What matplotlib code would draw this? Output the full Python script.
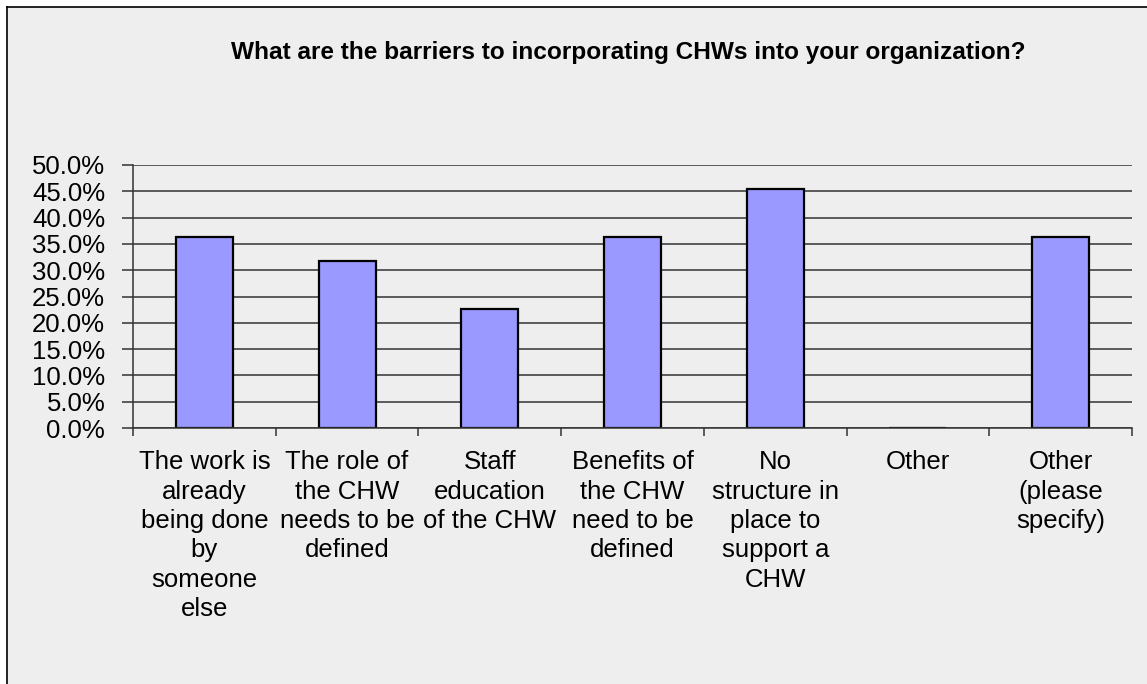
import matplotlib.pyplot as plt
from matplotlib.patches import Rectangle
from matplotlib.ticker import FuncFormatter, MultipleLocator

plt.rcParams['font.family'] = ['Liberation Sans', 'DejaVu Sans']

categories = [
    'The work is\nalready\nbeing done\nby\nsomeone\nelse',
    'The role of\nthe CHW\nneeds to be\ndefined',
    'Staff\neducation\nof the CHW',
    'Benefits of\nthe CHW\nneed to be\ndefined',
    'No\nstructure in\nplace to\nsupport a\nCHW',
    'Other',
    'Other\n(please\nspecify)',
]
shares = [36.4, 31.8, 22.7, 36.4, 45.5, 0.0, 36.4]

W, H = 1147, 684
fig = plt.figure(figsize=(W / 100, H / 100), dpi=100, facecolor='white')

# grey panel with a frame on its left and top edges
x0, y0 = 7 / W, 1 - 7 / H
fig.patches.append(Rectangle((x0, 0), 1 - x0, y0, transform=fig.transFigure,
                             facecolor='#eeeeee', edgecolor='none', zorder=-5))
fig.add_artist(plt.Line2D([x0, x0], [0, y0], transform=fig.transFigure,
                          color='black', lw=1.2, zorder=-4))
fig.add_artist(plt.Line2D([x0, 1], [y0, y0], transform=fig.transFigure,
                          color='black', lw=1.2, zorder=-4))

ax = fig.add_axes([133 / W, 1 - 428 / H, (1132 - 133) / W, (428 - 165) / H])
ax.set_facecolor('#eeeeee')

x = range(len(categories))
ax.bar(x, shares, width=0.4, color='#9999ff', edgecolor='black',
       linewidth=1.6, zorder=3)

ax.set_xlim(-0.5, len(categories) - 0.5)
ax.set_ylim(0, 50)
ax.yaxis.set_major_locator(MultipleLocator(5))
ax.yaxis.set_major_formatter(FuncFormatter(lambda v, _: f'{v:.1f}%'))
ax.grid(axis='y', color='#333333', linewidth=1.1, zorder=1)

for side in ('top', 'right'):
    ax.spines[side].set_visible(False)
for side in ('left', 'bottom'):
    ax.spines[side].set_color('#333333')
    ax.spines[side].set_linewidth(1.1)
    ax.spines[side].set_zorder(4)

ax.set_xticks(list(x))
ax.set_xticklabels(categories, fontsize=18.5, linespacing=1.28)
ax.set_xticks([i - 0.5 for i in range(len(categories) + 1)], minor=True)
ax.tick_params(axis='x', which='major', length=0, pad=16)
ax.tick_params(axis='x', which='minor', length=6, width=1.1, color='#333333')
ax.tick_params(axis='y', length=8, width=1.1, color='#333333',
               labelsize=18.5, pad=12)

fig.text(0.548, 1 - 52 / H,
         'What are the barriers to incorporating CHWs into your organization?',
         ha='center', va='center', fontsize=17.6, fontweight='bold')

fig.savefig('out.png', dpi=100, facecolor=fig.get_facecolor())
